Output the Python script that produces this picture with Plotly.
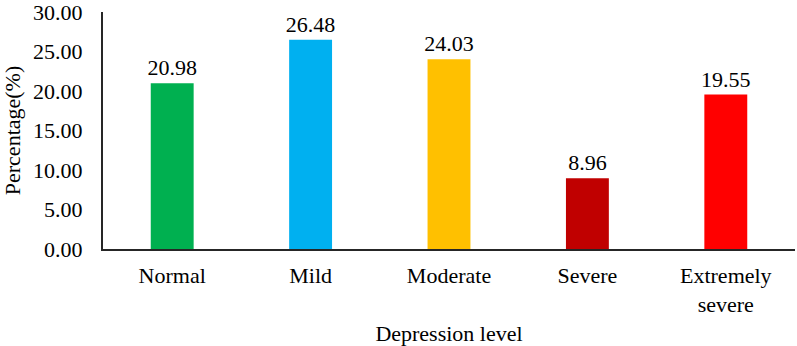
import plotly.graph_objects as go

categories = ["Normal", "Mild", "Moderate", "Severe", "Extremely<br>severe"]
values = [20.98, 26.48, 24.03, 8.96, 19.55]
colors = ["#00B050", "#00B0F0", "#FFC000", "#C00000", "#FF0000"]
y_ticks = [0, 5, 10, 15, 20, 25, 30]
y_tick_labels = ["%.2f" % v for v in y_ticks]

FONT = "Liberation Serif"
FS = 22

fig = go.Figure(go.Bar(
    x=categories, y=values,
    marker=dict(color=colors, line=dict(width=0)),
    width=0.31,
    text=["%.2f" % v for v in values],
    textposition="outside",
    constraintext="none",
    textfont=dict(family=FONT, size=FS, color="#000000"),
    cliponaxis=False,
    hoverinfo="skip",
))

fig.update_layout(
    width=797, height=346,
    margin=dict(l=103, r=2, t=12, b=97),
    paper_bgcolor="white", plot_bgcolor="white",
    font=dict(family=FONT, size=FS, color="#000000"),
    showlegend=False,
)
fig.update_xaxes(
    showline=True, linecolor="#262626", linewidth=2,
    ticks="", showgrid=False, automargin=False,
    ticklabelstandoff=6, ticklabeloverflow="allow",
    title=dict(text="Depression level", font=dict(family=FONT, size=FS), standoff=18),
    tickfont=dict(family=FONT, size=FS),
)
fig.update_yaxes(
    range=[0, 30], tickvals=y_ticks, ticktext=y_tick_labels,
    showline=True, linecolor="#262626", linewidth=2,
    ticks="", showgrid=False, zeroline=False, automargin=False,
    ticklabelstandoff=14, ticklabeloverflow="allow",
    title=dict(text="Percentage(%)", font=dict(family=FONT, size=FS), standoff=8),
    tickfont=dict(family=FONT, size=FS),
)

fig.write_html(
    "out.html",
    config={"displayModeBar": False},
    post_script="document.body.style.margin='0';document.body.style.overflow='hidden';",
)
